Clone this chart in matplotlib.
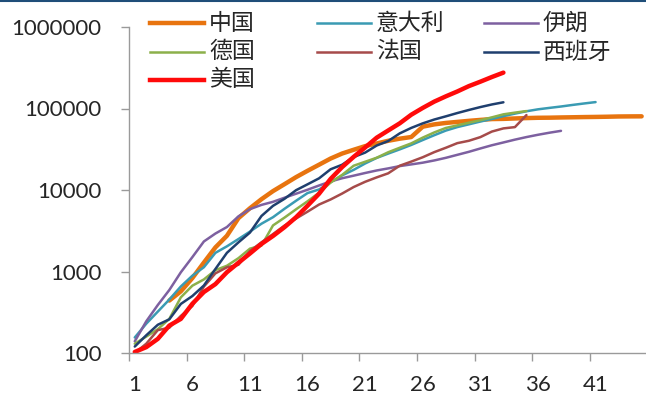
import numpy as np
import matplotlib
matplotlib.use("Agg")
import matplotlib.pyplot as plt
from matplotlib.lines import Line2D
from matplotlib.ticker import FixedLocator, FixedFormatter, NullFormatter

nan = np.nan

# Cumulative confirmed cases, counted from the day each country passed ~100 cases
days = list(range(1, 46))

china = [nan, nan, nan, 440, 571, 830, 1287, 1975, 2744, 4515, 5974, 7711, 9692,
         11791, 14380, 17205, 20438, 24324, 28018, 31161, 34546, 37198, 40171,
         42638, 44653, 59804, 63851, 66492, 68500, 70548, 72436, 74185, 74576,
         75465, 76288, 76936, 77150, 77658, 78064, 78497, 78824, 79251, 79824,
         80026, 80151]

italy = [155, 229, 322, 453, 655, 888, 1128, 1694, 2036, 2502, 3089, 3858, 4636,
         5883, 7375, 9172, 10149, 12462, 15113, 17660, 21157, 24747, 27980, 31506,
         35713, 41035, 47021, 53578, 59138, 63927, 69176, 74386, 80589, 86498,
         92472, 97689, 101739, 105792, 110574, 115242, 119827]

iran = [139, 245, 388, 593, 978, 1501, 2336, 2922, 3513, 4747, 5823, 6566, 7161,
        8042, 9000, 10075, 11364, 12729, 13938, 14991, 16169, 17361, 18407, 19644,
        20610, 21638, 23049, 24811, 27017, 29406, 32332, 35408, 38309, 41495,
        44605, 47593, 50468, 53183]

germany = [130, 159, 196, 262, 482, 670, 799, 1040, 1176, 1457, 1908, 2078, 3675,
           4585, 5795, 7272, 9257, 12327, 15320, 19848, 22213, 24873, 29056, 32986,
           37323, 43938, 50871, 57695, 62095, 66885, 71808, 77872, 84794, 89000,
           93000]

france = [100, 130, 191, 204, 285, 377, 653, 949, 1126, 1209, 1784, 2281, 2876,
          3661, 4469, 5423, 6633, 7652, 9043, 10871, 12612, 14282, 16018, 19856,
          22304, 25233, 29155, 32964, 37575, 40174, 44550, 52128, 56989, 59105,
          83000]

spain = [120, 165, 222, 259, 400, 500, 673, 1073, 1695, 2277, 3004, 4800, 6391,
         7798, 9942, 11748, 13910, 17963, 20410, 25374, 28768, 35136, 39885, 49515,
         57786, 65719, 73235, 80110, 87956, 95923, 104118, 112065, 119199]

usa = [103, 118, 149, 217, 262, 402, 560, 700, 980, 1281, 1663, 2179, 2727, 3499,
       4632, 6421, 9000, 13680, 19101, 25493, 33276, 43847, 53740, 65778, 83836,
       101657, 121478, 140886, 161807, 188172, 213372, 243453, 275586]

series_names = ["中国", "意大利", "伊朗", "德国", "法国", "西班牙", "美国"]
series_values = [china, italy, iran, germany, france, spain, usa]

y_ticks = [100, 1000, 10000, 100000, 1000000]
y_tick_labels = ["100", "1000", "10000", "100000", "1000000"]
x_tick_labels = ["1", "6", "11", "16", "21", "26", "31", "36", "41"]

# Line styles per series
styles = {
    "中国": dict(color="#E8740F", lw=3.2),
    "意大利": dict(color="#3A9BB3", lw=1.8),
    "伊朗": dict(color="#7D60A0", lw=1.8),
    "德国": dict(color="#8CB04A", lw=1.8),
    "法国": dict(color="#A64B4A", lw=1.8),
    "西班牙": dict(color="#1F3F6E", lw=1.8),
    "美国": dict(color="#FF0A0A", lw=3.2),
}

W, H = 646, 396
fig = plt.figure(figsize=(W / 100, H / 100), dpi=100)
fig.patch.set_facecolor("white")

ax = fig.add_axes([129 / W, 1 - 353 / H, 518.4 / W, 326 / H])
ax.set_yscale("log")

for name, vals in zip(series_names, series_values):
    st = styles[name]
    ax.plot(days[:len(vals)], vals, color=st["color"], lw=st["lw"],
            solid_joinstyle="round", solid_capstyle="round")

ax.set_xlim(0.5, 45.5)
ax.set_ylim(100, 1000000)

axis_grey = "#9A9A9A"
text_col = "#262626"
tick_font = dict(family="Lato", size=16)

# y axis: decades, plain numbers
ax.yaxis.set_major_locator(FixedLocator(y_ticks))
ax.yaxis.set_major_formatter(FixedFormatter(y_tick_labels))
ax.yaxis.set_minor_locator(FixedLocator([]))
ax.tick_params(axis="y", which="major", direction="out", length=5.8, width=1,
               color=axis_grey, pad=14, labelcolor=text_col)

# x axis: tick marks between categories, labels at category centres
ax.xaxis.set_major_locator(FixedLocator(np.arange(0.5, 41, 5)))
ax.xaxis.set_major_formatter(NullFormatter())
label_pos = [int(s) for s in x_tick_labels]
ax.xaxis.set_minor_locator(FixedLocator(label_pos))
ax.xaxis.set_minor_formatter(FixedFormatter(x_tick_labels))
ax.tick_params(axis="x", which="major", direction="out", length=5.8, width=1,
               color=axis_grey)
ax.tick_params(axis="x", which="minor", length=0, pad=15.5, labelcolor=text_col)

for lab in ax.get_xticklabels(minor=True) + ax.get_yticklabels():
    lab.set_fontfamily(tick_font["family"])
    lab.set_fontsize(tick_font["size"])

for side in ("top", "right"):
    ax.spines[side].set_visible(False)
for side in ("left", "bottom"):
    ax.spines[side].set_color(axis_grey)
    ax.spines[side].set_linewidth(1)

# legend, three columns filled row by row
col_x = [150, 317, 484]
row_y = [23, 52, 80]
line_len = 54
for k, name in enumerate(series_names):
    r, c = divmod(k, 3)
    x0, y0 = col_x[c], row_y[r]
    st = styles[name]
    fig.add_artist(Line2D([x0 / W, (x0 + line_len) / W], [1 - y0 / H] * 2,
                          transform=fig.transFigure, color=st["color"], lw=st["lw"]))
    fig.text((x0 + line_len + 5) / W, 1 - y0 / H, name,
             family=["Noto Sans CJK SC", "DejaVu Sans"], fontsize=16.5,
             color=text_col, ha="left", va="center")

# thin dark rule along the top edge
fig.add_artist(Line2D([0, 1], [1 - 1 / H] * 2, transform=fig.transFigure,
                      color="#1F4E79", lw=1.5))

fig.savefig("out.png", dpi=100)
